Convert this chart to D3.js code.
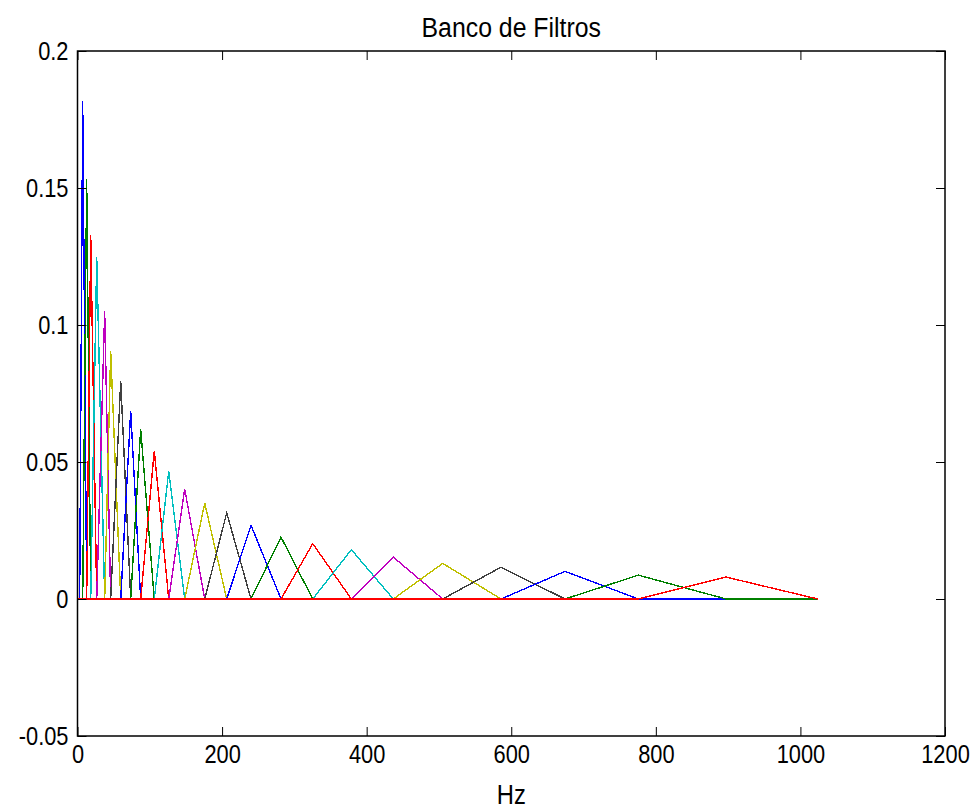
<!DOCTYPE html>
<html>
<head>
<meta charset="utf-8">
<script src="https://cdnjs.cloudflare.com/ajax/libs/d3/7.8.5/d3.min.js"></script>
<style>
  html, body { margin: 0; padding: 0; background: #fff; }
  svg { display: block; font-family: "Liberation Sans", Arial, sans-serif; }
</style>
</head>
<body>
<div id="chart"></div>
<script>
// Banco de Filtros: triangular filters, each spanning from the previous
// centre to the next one.

const filterEdges = [3, 7.2, 12.7, 18.3, 26.6, 37.6, 45.9, 59.8, 73.6, 87.4, 106.2, 126.2,
  148.3, 176.0, 206.4, 240.0, 281.5, 325.4, 378.8, 436.8, 505.2, 585.8, 674.4, 775.8, 897.1, 1024];

const filterPeaks = [0.1818, 0.1533, 0.1328, 0.1248, 0.1051, 0.0905, 0.0796, 0.0686,
  0.0620, 0.0540, 0.0467, 0.0401, 0.0350, 0.0314, 0.0269, 0.0226, 0.0202, 0.0180,
  0.0153, 0.0130, 0.0116, 0.0101, 0.0087, 0.0080];

const freqRange = [0, 1024];

const xTicks = [0, 200, 400, 600, 800, 1000, 1200];
const xTickLabels = ['0', '200', '400', '600', '800', '1000', '1200'];
const yTicks = [-0.05, 0, 0.05, 0.1, 0.15, 0.2];
const yTickLabels = ['-0.05', '0', '0.05', '0.1', '0.15', '0.2'];

const lineColors = ['#0000ff', '#008000', '#ff0000', '#00bfbf', '#bf00bf', '#bfbf00', '#404040'];

const width = 978, height = 808;
const plot = { left: 77.5, right: 945, top: 51, bottom: 736 };

// the exported figure has tall, narrow lettering
const labelSize = 26, labelSqueeze = 0.84;

const svg = d3.select('#chart').append('svg')
  .attr('width', width)
  .attr('height', height);

const x = d3.scaleLinear().domain([0, 1200]).range([plot.left, plot.right]);
const y = d3.scaleLinear().domain([-0.05, 0.2]).range([plot.bottom, plot.top]);

// each filter as a polyline over the whole band (zero outside its triangle)
const filters = filterPeaks.map((peak, i) => [
  [freqRange[0], 0],
  [filterEdges[i], 0],
  [filterEdges[i + 1], peak],
  [filterEdges[i + 2], 0],
  [freqRange[1], 0]
]);

const line = d3.line().x(d => x(d[0])).y(d => y(d[1]));

svg.append('g')
  .selectAll('path')
  .data(filters)
  .enter()
  .append('path')
  .attr('d', line)
  .attr('fill', 'none')
  .attr('stroke', (d, i) => lineColors[i % lineColors.length])
  .attr('stroke-width', 1.4)
  .attr('shape-rendering', 'crispEdges');

// axes with inward ticks on all four sides
const tickLen = 9, tickPad = 9;
const styleAxis = g => {
  g.select('.domain').remove();
  g.selectAll('.tick line').attr('stroke', '#000').attr('stroke-width', 1);
  g.selectAll('.tick text')
    .attr('fill', '#000')
    .attr('transform', `scale(${labelSqueeze},1)`)
    .style('font-size', labelSize + 'px')
    .style('font-family', '"Liberation Sans", Arial, sans-serif');
};

svg.append('g')
  .attr('transform', `translate(0,${plot.bottom})`)
  .call(d3.axisBottom(x).tickValues(xTicks).tickSize(-tickLen).tickPadding(tickPad)
    .tickFormat((d, i) => xTickLabels[i]))
  .call(styleAxis);

svg.append('g')
  .attr('transform', `translate(0,${plot.top})`)
  .call(d3.axisTop(x).tickValues(xTicks).tickSize(-tickLen).tickFormat(''))
  .call(styleAxis);

svg.append('g')
  .attr('transform', `translate(${plot.left},0)`)
  .call(d3.axisLeft(y).tickValues(yTicks).tickSize(-tickLen).tickPadding(tickPad)
    .tickFormat((d, i) => yTickLabels[i]))
  .call(styleAxis)
  .call(g => g.selectAll('.tick text').attr('x', -tickPad / labelSqueeze));

svg.append('g')
  .attr('transform', `translate(${plot.right},0)`)
  .call(d3.axisRight(y).tickValues(yTicks).tickSize(-tickLen).tickFormat(''))
  .call(styleAxis);

svg.append('rect')
  .attr('x', plot.left)
  .attr('y', plot.top)
  .attr('width', plot.right - plot.left)
  .attr('height', plot.bottom - plot.top)
  .attr('fill', 'none')
  .attr('stroke', '#000')
  .attr('stroke-width', 1.5);

const cx = (plot.left + plot.right) / 2;

svg.append('text')
  .attr('transform', `translate(${cx},37) scale(0.92,1)`)
  .attr('text-anchor', 'middle')
  .style('font-size', '27px')
  .text('Banco de Filtros');

svg.append('text')
  .attr('transform', `translate(${cx},804) scale(0.88,1)`)
  .attr('text-anchor', 'middle')
  .style('font-size', '27px')
  .text('Hz');
</script>
</body>
</html>
